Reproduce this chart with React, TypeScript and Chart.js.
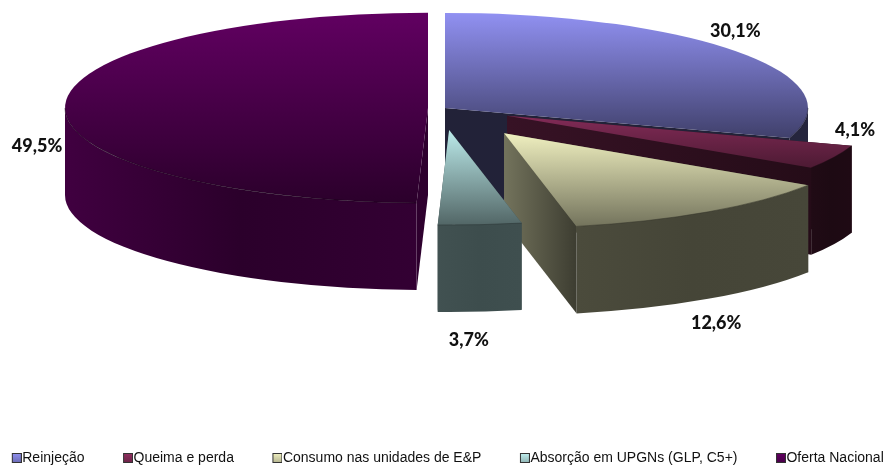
import React, { useEffect, useRef } from "react";
import { Chart, registerables } from "chart.js";

Chart.register(...registerables);

const categories = ["Reinjeção", "Queima e perda", "Consumo nas unidades de E&P", "Absorção em UPGNs (GLP, C5+)", "Oferta Nacional"];
const values = [30.1, 4.1, 12.6, 3.7, 49.5];
const valueLabels = ["30,1%", "4,1%", "12,6%", "3,7%", "49,5%"];
const baseColors = ["#9999FF", "#993366", "#FFFFCC", "#CCFFFF", "#660066"];

// styling
const explode = [0, 69, 107, 84, 16];
const nudge: [number, number][] = [[0, 0], [0, 0], [-1, 2], [-3, 0], [-1, 0]];
const PIE_RADIUS = 363;
const SQUASH = 0.262;
const DEPTH = 87;
const CANVAS_LEFT = -51;
const PIE_X = 445 - CANVAS_LEFT;
const PIE_Y = 108;
const labelNudge: [number, number][] = [[-4, -21], [21, -27], [8, 111], [-11, 115], [-28, 40]];
const rimShade = [0.24, 0.2, 0.28, 0.31, 0.5];
const rimSpread: [number, number][] = [[1, 1], [1.05, 0.95], [1.05, 0.97], [1.03, 0.97], [1.25, 0.85]];
const wallShade: [number, number][] = [[0.22, 0.22], [0.36, 0.24], [0.45, 0.24], [0.3, 0.3], [0.45, 0.45]];
const stopsTop: [number, number][] = [[0.95, 0.42], [0.85, 0.5], [0.94, 0.45], [0.92, 0.4], [0.95, 0.42]];

function rgb(hex: string) {
  return [1, 3, 5].map((i) => parseInt(hex.slice(i, i + 2), 16));
}
function shade(hex: string, f: number) {
  const [r, g, b] = rgb(hex);
  return `rgb(${Math.round(r * f)},${Math.round(g * f)},${Math.round(b * f)})`;
}

function legendSwatch(hex: string) {
  const c = document.createElement("canvas");
  c.width = 14;
  c.height = 10;
  const g = c.getContext("2d")!;
  const grad = g.createLinearGradient(0, 0, 0, 10);
  grad.addColorStop(0, shade(hex, 0.95));
  grad.addColorStop(1, shade(hex, 0.7));
  g.fillStyle = grad;
  g.fillRect(4, 0, 10, 10);
  g.strokeStyle = "#333";
  g.lineWidth = 1;
  g.strokeRect(4.5, 0.5, 9, 9);
  return c;
}

const pie3d = {
  id: "pie3d",
  beforeDatasetDraw(chart: any) {
    const ctx: CanvasRenderingContext2D = chart.ctx;
    const arcs = chart.getDatasetMeta(0).data as any[];
    const geos = arcs.map((arc, i) => {
      const mid = (arc.startAngle + arc.endAngle) / 2;
      const d = arc.options.offset;
      const rx = arc.outerRadius;
      const ry = rx * SQUASH;
      const cx = PIE_X + Math.cos(mid) * d + nudge[i][0];
      const cy = PIE_Y + Math.sin(mid) * d * SQUASH + nudge[i][1];
      return { mid, rx, ry, cx, cy, a0: arc.startAngle, a1: arc.endAngle };
    });

    geos.forEach((g, i) => {
      const hex = baseColors[i];
      const pt = (a: number, dy = 0): [number, number] => [g.cx + g.rx * Math.cos(a), g.cy + g.ry * Math.sin(a) + dy];

      // radial walls
      [g.a0, g.a1].forEach((a) => {
        const p = pt(a);
        const grad = ctx.createLinearGradient(g.cx, 0, p[0], 0);
        grad.addColorStop(0, shade(hex, wallShade[i][0]));
        grad.addColorStop(1, shade(hex, wallShade[i][1]));
        ctx.fillStyle = grad;
        ctx.beginPath();
        ctx.moveTo(g.cx, g.cy);
        ctx.lineTo(p[0], p[1]);
        ctx.lineTo(p[0], p[1] + DEPTH);
        ctx.lineTo(g.cx, g.cy + DEPTH);
        ctx.closePath();
        ctx.fill();
      });

      // outer rim (front half only)
      const from = Math.max(g.a0, 0);
      const to = Math.min(g.a1, Math.PI);
      if (to > from) {
        const left = pt(to)[0];
        const right = pt(from)[0];
        const grad = ctx.createLinearGradient(left, 0, right, 0);
        const f = rimShade[i];
        grad.addColorStop(0, shade(hex, f * rimSpread[i][0]));
        grad.addColorStop(0.5, shade(hex, f * rimSpread[i][1]));
        grad.addColorStop(1, shade(hex, f));
        ctx.fillStyle = grad;
        ctx.beginPath();
        ctx.ellipse(g.cx, g.cy, g.rx, g.ry, 0, from, to);
        ctx.ellipse(g.cx, g.cy + DEPTH, g.rx, g.ry, 0, to, from, true);
        ctx.closePath();
        ctx.fill();
      }

      // top face
      let ymin = g.cy;
      let ymax = g.cy;
      for (let k = 0; k <= 60; k++) {
        const y = pt(g.a0 + ((g.a1 - g.a0) * k) / 60)[1];
        ymin = Math.min(ymin, y);
        ymax = Math.max(ymax, y);
      }
      const top = ctx.createLinearGradient(0, ymin, 0, ymax);
      top.addColorStop(0, shade(hex, stopsTop[i][0]));
      top.addColorStop(1, shade(hex, stopsTop[i][1]));
      ctx.fillStyle = top;
      ctx.beginPath();
      ctx.moveTo(g.cx, g.cy);
      ctx.ellipse(g.cx, g.cy, g.rx, g.ry, 0, g.a0, g.a1);
      ctx.closePath();
      ctx.fill();

      // thin front edge of the top face
      if (to > from) {
        ctx.strokeStyle = shade(hex, 0.2);
        ctx.lineWidth = 0.5;
        ctx.beginPath();
        ctx.ellipse(g.cx, g.cy, g.rx, g.ry, 0, from, to);
        ctx.stroke();
      }
    });

    // value labels
    ctx.font = '900 18px Lato, "Open Sans", sans-serif';
    ctx.fillStyle = "#111";
    ctx.textAlign = "center";
    ctx.textBaseline = "middle";
    geos.forEach((g, i) => {
      ctx.fillText(
        valueLabels[i],
        g.cx + g.rx * Math.cos(g.mid) + labelNudge[i][0],
        g.cy + g.ry * Math.sin(g.mid) + labelNudge[i][1]
      );
    });
    return false;
  },
};

export default function App() {
  const ref = useRef<HTMLCanvasElement>(null);
  useEffect(() => {
    const swatches = baseColors.map(legendSwatch);
    const chart = new Chart(ref.current!, {
      type: "pie",
      data: {
        labels: categories,
        datasets: [{ data: values, backgroundColor: baseColors, offset: explode, radius: PIE_RADIUS, borderWidth: 0 } as any],
      },
      options: {
        animation: false,
        responsive: false,
        maintainAspectRatio: false,
        devicePixelRatio: 1,
        events: [],
        plugins: {
          tooltip: { enabled: false },
          legend: {
            display: true,
            position: "bottom",
            labels: {
              usePointStyle: true,
              pointStyleWidth: 1,
              boxHeight: 10,
              padding: 41,
              color: "#111",
              font: { family: '"Liberation Sans", Arial, sans-serif', size: 14 },
              generateLabels: (c: any) =>
                (Chart as any).overrides.pie.plugins.legend.labels
                  .generateLabels(c)
                  .map((it: any, i: number) => ({ ...it, pointStyle: swatches[i] })),
            },
          },
        },
      } as any,
      plugins: [pie3d as any],
    });
    return () => chart.destroy();
  }, []);
  return (
    <div style={{ position: "absolute", left: 0, top: 0, width: 887, height: 465, overflow: "hidden", background: "#fff" }}>
      <canvas ref={ref} width={1000} height={475} style={{ position: "absolute", left: CANVAS_LEFT, top: 0, width: 1000, height: 475 }} />
    </div>
  );
}
